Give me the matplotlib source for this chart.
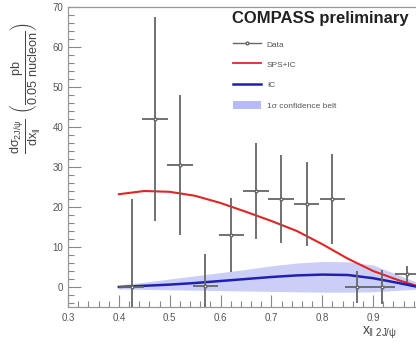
import numpy as np
import matplotlib.pyplot as plt
from matplotlib.patches import Patch
from matplotlib.lines import Line2D

plt.rcParams['font.family'] = ['Liberation Sans', 'DejaVu Sans']
plt.rcParams['mathtext.fontset'] = 'custom'
plt.rcParams['mathtext.rm'] = 'Liberation Sans'
plt.rcParams['mathtext.it'] = 'Liberation Sans'

# --- data points (x, y, errors) ---
x_data = [0.425, 0.471, 0.520, 0.570, 0.621, 0.670, 0.719, 0.769, 0.820, 0.869, 0.918, 0.967]
y_data = [0.0, 42.0, 30.5, 0.3, 13.0, 24.0, 22.0, 20.7, 22.0, 0.0, 0.0, 3.2]
y_err = [22.0, 25.5, 17.5, 8.0, 9.3, 12.0, 11.0, 10.5, 11.2, 4.0, 4.3, 2.0]
x_err = [0.025] * len(x_data)

# --- model curves ---
x_curve = [0.40, 0.45, 0.50, 0.55, 0.60, 0.65, 0.70, 0.75, 0.80, 0.85, 0.90, 0.95, 1.00]
sps_ic = [23.2, 24.0, 23.8, 22.8, 21.0, 18.8, 16.5, 14.0, 10.7, 7.1, 4.0, 1.7, -0.3]
ic = [0.0, 0.3, 0.6, 1.0, 1.5, 2.0, 2.5, 2.9, 3.1, 3.0, 2.2, 1.0, -0.3]
belt_hi = [0.5, 1.2, 2.0, 2.8, 3.6, 4.4, 5.3, 6.0, 6.4, 6.3, 5.5, 3.0, 0.5]
belt_lo = [-0.5, -0.6, -0.7, -0.8, -0.9, -1.0, -1.1, -1.2, -1.3, -1.3, -1.2, -0.8, -0.5]

fig = plt.figure(figsize=(4.16, 3.47), dpi=100)
ax = fig.add_axes([68/416, 40/347, 356/416, 300/347])

gray = "#666666"
belt_col = "#b6bbf6"
ax.fill_between(x_curve, belt_lo, belt_hi, color=belt_col, alpha=0.7, lw=0, zorder=1)
ax.plot(x_curve, sps_ic, color="#e02525", lw=1.5, zorder=2)
ax.plot(x_curve, ic, color="#2020b0", lw=1.8, zorder=3)
ax.errorbar(x_data, y_data, yerr=y_err, xerr=x_err, fmt="o", ms=2, mfc="white",
            mec=gray, color=gray, elinewidth=1.3, capsize=0, zorder=4)

ax.set_xlim(0.3, 1.0)
ax.set_ylim(-5, 70)
ax.set_xticks(np.arange(0.3, 1.0, 0.1))
ax.set_xticklabels(["0.3", "0.4", "0.5", "0.6", "0.7", "0.8", "0.9"])
ax.set_xticks(np.arange(0.3, 1.0, 0.02), minor=True)
ax.set_yticks(np.arange(0, 71, 10))
ax.set_yticks(np.arange(-4, 71, 2), minor=True)
ax.tick_params(which="both", direction="in", colors="#888888", labelcolor="#555555",
               labelsize=7, top=False, right=False)
ax.tick_params(which="major", length=9, width=0.8)
ax.tick_params(which="minor", length=4, width=0.8)
ax.tick_params(axis="x", pad=4)
for s in ax.spines.values():
    s.set_color("#999999")
    s.set_linewidth(0.9)

fig.text(232/416, 1 - 18/347, "COMPASS preliminary", fontsize=12, fontweight="bold",
         va="center", ha="left", color="#222222")

handles = [
    Line2D([], [], color=gray, marker="o", ms=2, mfc="white", lw=1.0),
    Line2D([], [], color="#e02525", lw=1.3),
    Line2D([], [], color="#2020b0", lw=1.8),
    Patch(facecolor=belt_col, edgecolor="none"),
]
labels = ["Data", "SPS+IC", "IC", "1σ confidence belt"]
fig.legend(handles, labels, loc="upper left", bbox_to_anchor=(226/416, 1 - 32/347),
           frameon=False, fontsize=6, handlelength=3.3, handleheight=1.2,
           labelspacing=1.35, handletextpad=0.7, labelcolor="#555555")

fig.text(26/416, 1 - 88/347,
         r"$\frac{d\sigma_{2J/\psi}}{dx_{\|}}\ \left(\frac{pb}{0.05\ nucleon}\right)$",
         rotation=90, fontsize=13, va="center", ha="center", color="#444444")
fig.text(362/416, 1 - 333/347, r"$x_{\|\ 2J/\psi}$", fontsize=10, ha="left",
         va="center", color="#444444")

fig.savefig("out.png", dpi=100)
